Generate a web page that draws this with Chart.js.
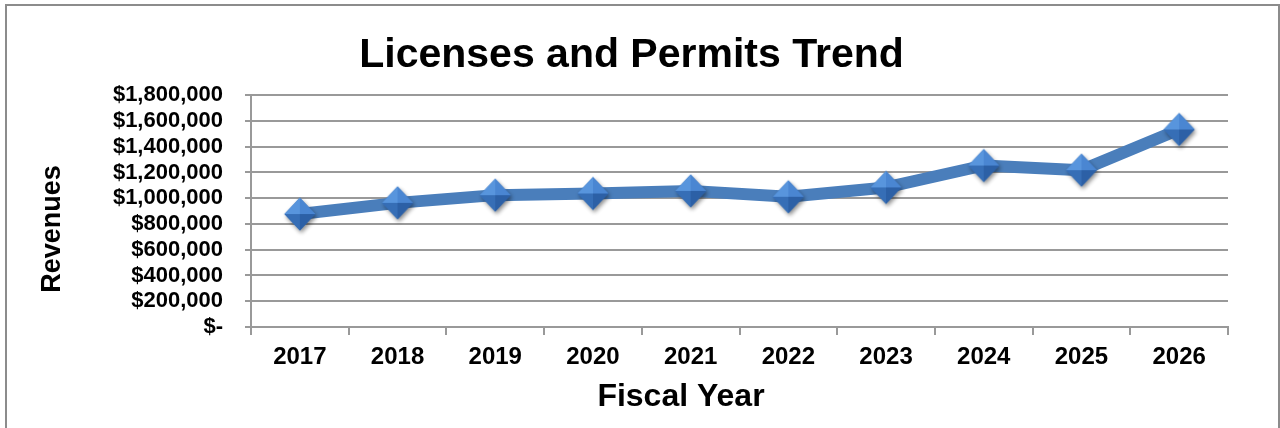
<!DOCTYPE html>
<html>
<head>
<meta charset="utf-8">
<title>Licenses and Permits Trend</title>
<script src="https://cdn.jsdelivr.net/npm/chart.js@4.4.0/dist/chart.umd.min.js"></script>
<style>
  html, body { margin: 0; padding: 0; background: #fff; }
  #wrap { position: relative; width: 1280px; height: 428px; }
</style>
</head>
<body>
<div id="wrap"><canvas id="trendChart" width="1280" height="428"></canvas></div>
<script>
const fiscalYears = ['2017', '2018', '2019', '2020', '2021', '2022', '2023', '2024', '2025', '2026'];
const revenues = [877000, 964000, 1024000, 1037000, 1057000, 1011000, 1084000, 1254000, 1218000, 1534000];
const yMax = 1800000;
const yStep = 200000;

const FONT = '"Liberation Sans", Arial, Helvetica, sans-serif';
const GRID = '#999999';

// faceted blue diamond used as the marker
function makeDiamond() {
    const c = document.createElement('canvas');
    c.width = 44; c.height = 46;
    const g = c.getContext('2d');
    const cx = 22, cy = 23, rx = 15.5, ry = 16.5;
    const top = [cx, cy - ry], right = [cx + rx, cy], bottom = [cx, cy + ry], left = [cx - rx, cy];

    g.save();
    g.shadowColor = 'rgba(0,0,0,0.45)';
    g.shadowBlur = 4; g.shadowOffsetX = 1.5; g.shadowOffsetY = 2.5;
    g.beginPath();
    g.moveTo(...top); g.lineTo(...right); g.lineTo(...bottom); g.lineTo(...left);
    g.closePath();
    g.fillStyle = '#3a70b5';
    g.fill();
    g.restore();

    const facet = (a, b, color) => {
        g.beginPath();
        g.moveTo(...a); g.lineTo(...b); g.lineTo(cx, cy);
        g.closePath();
        g.fillStyle = color;
        g.fill();
    };
    facet(left, top, '#5895dd');
    facet(top, right, '#4a86d2');
    facet(right, bottom, '#2c60a6');
    facet(bottom, left, '#366eb6');
    return c;
}

const frame = {
    id: 'frame',
    beforeDraw(chart) {
        const ctx = chart.ctx;
        ctx.save();
        ctx.fillStyle = '#fff';
        ctx.fillRect(0, 0, chart.width, chart.height);
        ctx.strokeStyle = '#8c8c8c';
        ctx.lineWidth = 2;
        ctx.strokeRect(6, 5, 1273, 440);
        ctx.restore();
    }
};

// axis titles
const axisTitles = {
    id: 'axisTitles',
    afterDraw(chart) {
        const ctx = chart.ctx;
        ctx.save();
        ctx.fillStyle = '#000';
        ctx.textAlign = 'center';
        ctx.textBaseline = 'middle';
        ctx.font = 'bold 32px ' + FONT;
        ctx.fillText('Fiscal Year', 681, 397);
        ctx.translate(53, 229);
        ctx.rotate(-Math.PI / 2);
        ctx.font = 'bold 27px ' + FONT;
        ctx.fillText('Revenues', 0, 0);
        ctx.restore();
    }
};

new Chart(document.getElementById('trendChart'), {
    type: 'line',
    data: {
        labels: fiscalYears,
        datasets: [{
            label: 'Revenues',
            data: revenues,
            borderColor: '#4a7ebb',
            borderWidth: 12,
            borderJoinStyle: 'round',
            borderCapStyle: 'round',
            tension: 0,
            pointStyle: makeDiamond(),
            pointRadius: 16,
            pointHoverRadius: 16,
            clip: false
        }]
    },
    options: {
        responsive: false,
        animation: false,
        devicePixelRatio: 1,
        layout: { padding: { left: 35, right: 52, top: 0, bottom: 0 } },
        plugins: {
            legend: { display: false },
            tooltip: { enabled: false },
            title: {
                display: true,
                text: 'Licenses and Permits Trend',
                color: '#000',
                font: { family: FONT, size: 41, weight: 'bold' },
                padding: { top: 31, bottom: 15 }
            }
        },
        scales: {
            x: {
                offset: true,
                grid: { drawOnChartArea: false, drawTicks: true, tickLength: 8, color: GRID, lineWidth: 2, offset: true },
                border: { display: true, color: GRID, width: 2 },
                ticks: { color: '#000', font: { family: FONT, size: 24, weight: 'bold' }, padding: 8, maxRotation: 0, autoSkip: false },
                afterFit: s => { s.height = 101; }
            },
            y: {
                min: 0,
                max: yMax,
                grid: { color: GRID, lineWidth: 2, tickLength: 6 },
                border: { display: true, color: GRID, width: 2 },
                ticks: {
                    stepSize: yStep,
                    autoSkip: false,
                    color: '#000',
                    padding: 22,
                    font: { family: FONT, size: 22, weight: 'bold' },
                    callback: v => v === 0 ? '$-' : '$' + v.toLocaleString('en-US')
                },
                afterFit: s => { s.width = 216; }
            }
        }
    },
    plugins: [frame, axisTitles]
});
</script>
</body>
</html>
